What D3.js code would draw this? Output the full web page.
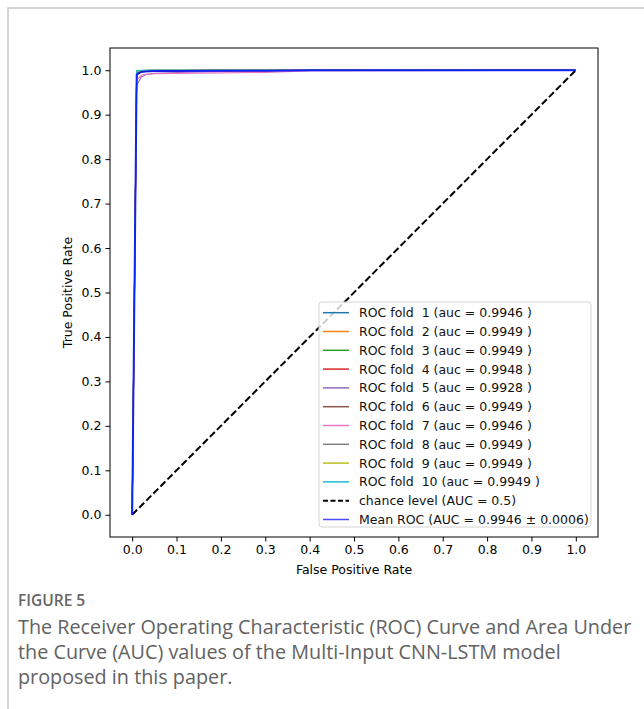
<!DOCTYPE html>
<html>
<head>
<meta charset="utf-8">
<title>ROC curves</title>
<script src="https://d3js.org/d3.v7.min.js"></script>
<style>
  body { margin: 0; background: #fff; }
  svg text { font-family: "DejaVu Sans", sans-serif; }
  .caption { font-family: "Open Sans", sans-serif; }
</style>
</head>
<body>
<svg id="chart"></svg>
<script>
// ---- data ----
const foldAuc = [0.9946, 0.9949, 0.9949, 0.9948, 0.9928, 0.9949, 0.9946, 0.9949, 0.9949, 0.9949];
const foldColors = ["#1f77b4", "#ff7f0e", "#2ca02c", "#d62728", "#9467bd",
                    "#8c564b", "#e377c2", "#7f7f7f", "#bcbd22", "#17becf"];

// curves are sampled on the common FPR grid (0, 1/99, 2/99, ...)
const gridFpr = [0, 0.0101, 0.0202, 0.0303, 0.0505, 0.1010, 0.2020, 0.3030, 0.4040, 1];
const foldTpr = [
  [0, 0.990, 0.996, 0.997, 0.998, 0.998, 0.999, 0.999, 1, 1],
  [0, 0.995, 0.998, 0.999, 0.999, 0.999, 1, 1, 1, 1],
  [0, 0.998, 0.999, 1, 1, 1, 1, 1, 1, 1],
  [0, 0.993, 0.997, 0.998, 0.999, 0.999, 1, 1, 1, 1],
  [0, 0.965, 0.985, 0.990, 0.993, 0.995, 0.997, 0.998, 0.999, 1],
  [0, 0.995, 0.998, 0.999, 1, 1, 1, 1, 1, 1],
  [0, 0.978, 0.988, 0.991, 0.992, 0.993, 0.994, 0.995, 0.999, 1],
  [0, 0.996, 0.998, 0.999, 1, 1, 1, 1, 1, 1],
  [0, 0.997, 0.999, 1, 1, 1, 1, 1, 1, 1],
  [0, 0.999, 1, 1, 1, 1, 1, 1, 1, 1]
];
const meanTpr = [0, 0.990, 0.996, 0.997, 0.998, 0.998, 0.999, 0.999, 1, 1];
const meanAuc = 0.9946, stdAuc = 0.0006;

const chanceX = [0, 1];
const chanceY = [0, 1];

const tickValues = [0, 0.1, 0.2, 0.3, 0.4, 0.5, 0.6, 0.7, 0.8, 0.9, 1.0];

const captionTitle = "FIGURE 5";
const captionLines = [
  "The Receiver Operating Characteristic (ROC) Curve and Area Under",
  "the Curve (AUC) values of the Multi-Input CNN-LSTM model",
  "proposed in this paper."
];

// ---- layout ----
const width = 644, height = 709;
const plot = { left: 110, right: 598, top: 48, bottom: 537 };

const svg = d3.select("#chart").attr("width", width).attr("height", height);

// outer page frame (top + left visible)
svg.append("path")
  .attr("d", `M8,${height} L8,8 L${width},8`)
  .attr("fill", "none")
  .attr("stroke", "#c8c8c8")
  .attr("stroke-width", 1.5);

const x = d3.scaleLinear().domain([-0.05, 1.05]).range([plot.left, plot.right]);
const y = d3.scaleLinear().domain([-0.05, 1.05]).range([plot.bottom, plot.top]);

svg.append("clipPath").attr("id", "clip")
  .append("rect")
  .attr("x", plot.left).attr("y", plot.top)
  .attr("width", plot.right - plot.left).attr("height", plot.bottom - plot.top);

const g = svg.append("g").attr("clip-path", "url(#clip)");
const line = d3.line().x(d => x(d[0])).y(d => y(d[1]));

// fold curves
foldTpr.forEach((tpr, i) => {
  g.append("path")
    .datum(gridFpr.map((f, j) => [f, tpr[j]]))
    .attr("fill", "none")
    .attr("stroke", foldColors[i])
    .attr("stroke-width", 1.1)
    .attr("d", line);
});

// chance level
g.append("path")
  .datum(chanceX.map((v, j) => [v, chanceY[j]]))
  .attr("fill", "none")
  .attr("stroke", "#000")
  .attr("stroke-width", 2)
  .attr("stroke-dasharray", "7,3")
  .attr("d", line);

// mean ROC
g.append("path")
  .datum(gridFpr.map((f, j) => [f, meanTpr[j]]))
  .attr("fill", "none")
  .attr("stroke", "#0000ff")
  .attr("stroke-opacity", 0.8)
  .attr("stroke-width", 2)
  .attr("d", line);

// axes
const fmt = d3.format(".1f");
const xAxis = svg.append("g")
  .attr("transform", `translate(0,${plot.bottom})`)
  .call(d3.axisBottom(x).tickValues(tickValues).tickFormat(fmt).tickSize(4.5).tickPadding(4));
const yAxis = svg.append("g")
  .attr("transform", `translate(${plot.left},0)`)
  .call(d3.axisLeft(y).tickValues(tickValues).tickFormat(fmt).tickSize(4.5).tickPadding(4));
[xAxis, yAxis].forEach(a => {
  a.select(".domain").remove();
  a.selectAll("text").attr("font-size", 12.5).attr("fill", "#000")
    .attr("font-family", "DejaVu Sans, sans-serif");
  a.selectAll("line").attr("stroke", "#000").attr("stroke-width", 1);
});

// frame
svg.append("rect")
  .attr("x", plot.left).attr("y", plot.top)
  .attr("width", plot.right - plot.left).attr("height", plot.bottom - plot.top)
  .attr("fill", "none").attr("stroke", "#000").attr("stroke-width", 1);

// axis labels
svg.append("text")
  .attr("x", (plot.left + plot.right) / 2).attr("y", 574)
  .attr("text-anchor", "middle").attr("font-size", 12.5)
  .text("False Positive Rate");
svg.append("text")
  .attr("transform", `translate(72,${(plot.top + plot.bottom) / 2}) rotate(-90)`)
  .attr("text-anchor", "middle").attr("font-size", 12.5)
  .text("True Positive Rate");

// legend
const legendItems = foldAuc.map((a, i) => ({
  label: `ROC fold  ${i + 1} (auc = ${a.toFixed(4)} )`,
  color: foldColors[i], dash: null, width: 1.5, opacity: 1
}));
legendItems.push({ label: "chance level (AUC = 0.5)", color: "#000", dash: "5,2.5", width: 2, opacity: 1 });
legendItems.push({ label: `Mean ROC (AUC = ${meanAuc.toFixed(4)} \u00b1 ${stdAuc.toFixed(4)})`,
  color: "#0000ff", dash: null, width: 1.5, opacity: 0.7 });

const lg = svg.append("g");
lg.append("rect")
  .attr("x", 319).attr("y", 302).attr("width", 272).attr("height", 225)
  .attr("rx", 3)
  .attr("fill", "#fff").attr("fill-opacity", 0.8)
  .attr("stroke", "#d4d4d4").attr("stroke-width", 1);

const rows = lg.selectAll("g.item").data(legendItems).enter().append("g")
  .attr("class", "item")
  .attr("transform", (d, i) => `translate(0,${312.7 + i * 18.8})`);
rows.append("line")
  .attr("x1", 323).attr("x2", 349).attr("y1", 0).attr("y2", 0)
  .attr("stroke", d => d.color)
  .attr("stroke-width", d => d.width)
  .attr("stroke-opacity", d => d.opacity)
  .attr("stroke-dasharray", d => d.dash);
rows.append("text")
  .attr("x", 359).attr("y", 0)
  .attr("dy", "0.36em")
  .attr("font-size", 12.5)
  .attr("fill", "#111")
  .style("white-space", "pre")
  .attr("xml:space", "preserve")
  .text(d => d.label);

// caption
svg.append("text")
  .attr("class", "caption")
  .attr("x", 18).attr("y", 605.5)
  .attr("font-size", 15.5).attr("font-weight", 600)
  .attr("fill", "#666")
  .text(captionTitle);
captionLines.forEach((t, i) => {
  svg.append("text")
    .attr("class", "caption")
    .attr("x", 18).attr("y", 634 + i * 25)
    .attr("font-size", 19.8)
    .attr("fill", "#626262")
    .text(t);
});
</script>
</body>
</html>
